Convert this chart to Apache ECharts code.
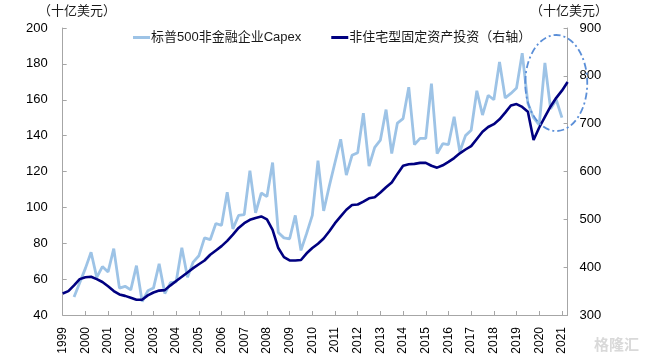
<!DOCTYPE html>
<html><head><meta charset="utf-8">
<script src="https://cdn.jsdelivr.net/npm/echarts@6/dist/echarts.min.js"></script>
<style>html,body{margin:0;padding:0;background:#fff}#c{width:645px;height:358px}</style>
</head><body><div id="c"></div>
<script>
const years = [];
for (let y = 1999; y <= 2021; y++) years.push(String(y));
const quarters = [];
years.forEach(y => { ['Q1','Q2','Q3','Q4'].forEach(q => quarters.push(y + q)); });
const categories = quarters.slice(0, 90); // 1999Q1 .. 2021Q2

const capexName = '标普500非金融企业Capex';
const invName = '非住宅型固定资产投资（右轴）';
const unitLabel = '（十亿美元）';

// S&P 500 non-financial capex (left axis, bn USD)
const capex = [null, null,
  50, 58, 66, 75, 61, 67, 64, 77, 55, 56, 54, 67.5, 47.5, 53.5, 55, 68.5,
  52, 58, 58.5, 77.5, 61, 69.5, 73, 83, 82, 91, 90, 108.5, 88, 95.5, 96, 120.5,
  97, 108, 106, 125, 86, 83, 82.5, 95.5, 76, 85.5, 95.5, 126, 98, 112, 125, 138,
  118, 129, 130.5, 152.5, 123, 133.5, 137.5, 154.5, 130, 147, 149.5, 167,
  135, 138.5, 138.5, 169, 130, 135.5, 135, 150.5, 131, 140, 143, 165,
  151.5, 162.5, 160, 181, 161, 163.5, 166.5, 186, 158, 150, 146, 180.5,
  155, 160, 150, null];

// Non-residential fixed investment (right axis, bn USD)
const investment = [
  345, 350, 362, 375, 379, 380, 375, 369, 360, 350, 343, 340, 336, 332, 332, 341,
  347, 351, 352, 362, 371, 380, 389, 398, 406, 414, 426, 435, 444, 455, 468, 482,
  492, 499, 503, 506, 500, 478, 440, 421, 414, 414, 415, 429, 440, 449, 460, 475,
  492, 506, 520, 530, 531, 537, 544, 546, 556, 567, 577, 595, 612, 615, 616, 618,
  618, 612, 608, 613, 620, 628, 638, 646, 653, 668, 683, 693, 699, 709, 723, 738,
  741, 735, 725, 666, 692, 714, 736, 754, 769, 787];

const leftTicks = [40, 200, 20];
const rightTicks = [300, 900, 100];

const FONT = '"Liberation Sans", Arial, "Noto Sans CJK SC", sans-serif';
const chart = echarts.init(document.getElementById('c'), null, {renderer: 'canvas'});
const axisLineStyle = {color: '#a6a6a6', width: 1};

chart.setOption({
  backgroundColor: '#fff',
  animation: false,
  textStyle: {fontFamily: FONT},
  grid: {left: 62.7, right: 77.4, top: 28, bottom: 43, containLabel: false},
  legend: {
    left: 128, top: 26, itemGap: 30, itemWidth: 17, itemHeight: 3, icon: 'rect',
    textStyle: {fontSize: 13, color: '#1a1a1a', fontFamily: FONT, padding: [0,0,0,-4]},
    data: [capexName, invName]
  },
  xAxis: {
    type: 'category', data: categories, boundaryGap: false,
    axisLine: {lineStyle: axisLineStyle},
    axisTick: {inside: true, length: 4, interval: 3, lineStyle: axisLineStyle},
    axisLabel: {interval: 3, rotate: 90, fontSize: 12, color: '#000', margin: 12,
      formatter: v => v.slice(0, 4)},
    splitLine: {show: false}
  },
  yAxis: [
    {type: 'value', min: leftTicks[0], max: leftTicks[1], interval: leftTicks[2],
      axisLine: {show: true, lineStyle: axisLineStyle},
      axisTick: {show: true, inside: true, length: 4, lineStyle: axisLineStyle},
      axisLabel: {fontSize: 13, color: '#000', margin: 15},
      splitLine: {show: false}},
    {type: 'value', min: rightTicks[0], max: rightTicks[1], interval: rightTicks[2],
      position: 'right',
      axisLine: {show: true, lineStyle: axisLineStyle},
      axisTick: {show: true, inside: true, length: 4, lineStyle: axisLineStyle},
      axisLabel: {fontSize: 13, color: '#000', margin: 12},
      splitLine: {show: false}}
  ],
  series: [
    {name: capexName, type: 'line', data: capex, yAxisIndex: 0, symbol: 'none',
      connectNulls: false, lineStyle: {color: '#9dc3e6', width: 2.8}, itemStyle: {color: '#9dc3e6'}, z: 2},
    {name: invName, type: 'line', data: investment, yAxisIndex: 1, symbol: 'none',
      lineStyle: {color: '#000080', width: 2.6}, itemStyle: {color: '#000080'}, z: 3}
  ]
});

// annotation ellipse around recent data, located via the chart's own scales
const c = chart.convertToPixel({xAxisIndex: 0, yAxisIndex: 1}, [87, 785]);
chart.setOption({
  graphic: [
    {type: 'text', left: 38, top: 5, z: 10,
      style: {text: unitLabel, fontSize: 13, fill: '#1a1a1a', fontFamily: FONT}},
    {type: 'text', left: 530, top: 5, z: 10,
      style: {text: unitLabel, fontSize: 13, fill: '#1a1a1a', fontFamily: FONT}},
    {type: 'ellipse', shape: {cx: c[0], cy: c[1], rx: 31, ry: 48}, z: 10,
      style: {fill: 'none', stroke: '#5b8fd8', lineWidth: 1.8, lineDash: [7, 3, 2, 3]}},
    {type: 'text', right: 6, bottom: 6, z: 10,
      style: {text: '格隆汇', fontSize: 15, fontWeight: 'bold', fill: '#d9d9d9', fontFamily: '"Noto Sans CJK SC", sans-serif'}}
  ]
});
</script></body></html>
